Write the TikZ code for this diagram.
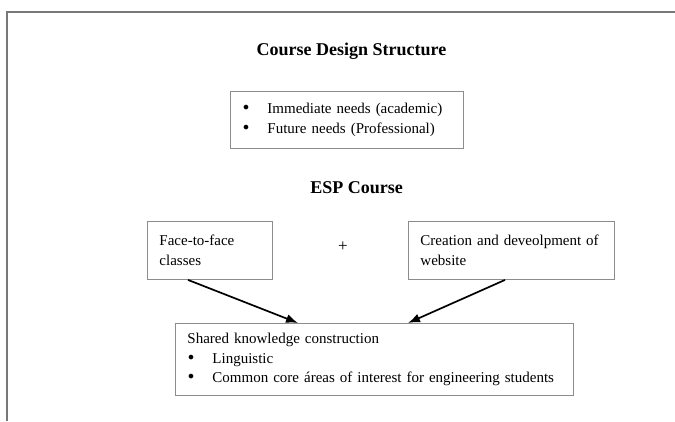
\documentclass[tikz,border=0pt]{standalone}
\usepackage{fontspec}
\setmainfont{Liberation Serif}
\newfontfamily\bulletfont{DejaVu Sans}
\usetikzlibrary{arrows.meta}
\definecolor{boxgray}{RGB}{140,140,140}
\definecolor{framegray}{RGB}{120,120,120}
\newcommand{\bodyfont}{\fontsize{15}{19.5}\selectfont}
\newcommand{\titlefont}{\fontsize{18}{22}\selectfont\bfseries}
\newcommand{\bul}{\makebox[25pt][l]{\kern-1pt{\bulletfont\fontsize{16}{19.5}\selectfont •}}}
\tikzset{
  boxstyle/.style={draw=boxgray, line width=0.9pt, inner xsep=12pt, inner ysep=0pt,
    align=left, anchor=north west, font=\bodyfont},
  titlestyle/.style={font=\titlefont, anchor=base, inner sep=0pt},
  arr/.style={line width=1.7pt, -{Latex[length=12pt,width=9pt]}},
}
\begin{document}
\begin{tikzpicture}[x=1pt,y=-1pt]
\useasboundingbox (0,0) rectangle (675,421);
\fill[white] (0,0) rectangle (675,421);
% outer frame (only top and left edges visible)
\draw[framegray, line width=1.1pt] (7,421) -- (7,12) -- (675,12);

\node[titlestyle] (title) at (351.5,55) {Course Design Structure};

\node[boxstyle, minimum width=233pt, minimum height=57pt, text width=209pt] (needs) at (230,91)
  {\bul Immediate needs (academic)\\ \bul Future needs (Professional)};

\node[titlestyle] (esp) at (356.5,193) {ESP Course};

\node[boxstyle, minimum width=125pt, minimum height=58pt, text width=101pt] (lbox) at (147,221)
  {Face-to-face\\ classes};

\node[font=\fontsize{17}{19.5}\selectfont, inner sep=0pt] (plus) at (343,247) {+};

\node[boxstyle, minimum width=206pt, minimum height=58pt, text width=182pt] (rbox) at (408,221)
  {Creation and deveolpment of\\ website};

\node[boxstyle, minimum width=398pt, minimum height=72pt, text width=374pt] (bbox) at (175,323)
  {Shared knowledge construction\\ \bul Linguistic\\ \bul Common core áreas of interest for engineering students};

\draw[arr] ([xshift=41pt]lbox.south west) -- ([xshift=123pt]bbox.north west);
\draw[arr] ([xshift=97pt]rbox.south west) -- ([xshift=233pt]bbox.north west);
\end{tikzpicture}
\end{document}
